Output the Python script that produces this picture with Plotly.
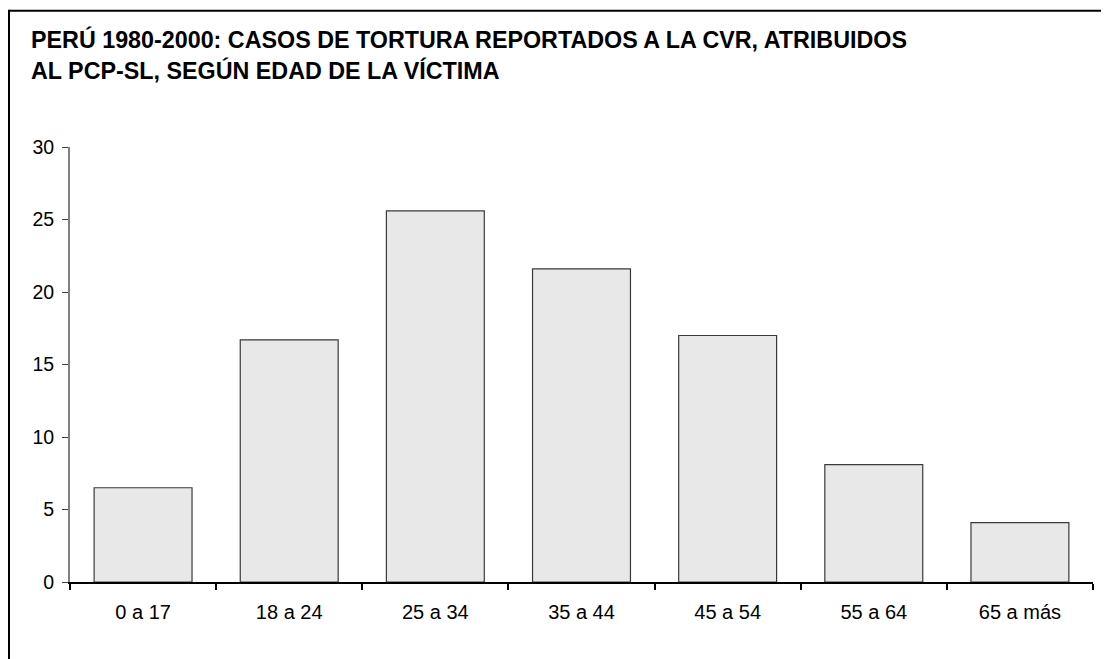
import plotly.graph_objects as go

categories = ["0 a 17", "18 a 24", "25 a 34", "35 a 44", "45 a 54", "55 a 64", "65 a más"]
values = [6.5, 16.7, 25.6, 21.6, 17.0, 8.1, 4.1]
y_ticks = [0, 5, 10, 15, 20, 25, 30]
title_line1 = "PERÚ 1980-2000: CASOS DE TORTURA REPORTADOS A LA CVR, ATRIBUIDOS"
title_line2 = "AL PCP-SL, SEGÚN EDAD DE LA VÍCTIMA"

# page has an 8px body margin; work in page pixel coordinates and shift
O = 8
W, H = 1109 - O, 659 - O
L, R = 70 - O, 16
T = 147.3 - O
B = H - (582.3 - O)
ph = H - T - B
pw = W - L - R

def py(p):  # page pixel y -> paper
    return (582.3 - p) / ph

def px(p):  # page pixel x -> paper
    return (p - 70) / pw

FONT = "Liberation Sans, Arial, sans-serif"

fig = go.Figure(go.Bar(
    x=categories, y=values, width=0.67,
    marker=dict(color="#e8e8e8", line=dict(color="#3a3a3a", width=1.2)),
))

border = dict(color="black", width=2)

fig.update_layout(
    width=W, height=H,
    margin=dict(l=L, r=R, t=T, b=B, autoexpand=False),
    paper_bgcolor="white", plot_bgcolor="white",
    showlegend=False,
    font=dict(family=FONT, size=20, color="black"),
    xaxis=dict(
        type="category", range=[-0.5, 6.5],
        showline=True, linecolor="black", linewidth=1.5,
        ticks="outside", tickson="boundaries", ticklen=6, tickcolor="black", tickwidth=1.5,
        showgrid=False, tickfont=dict(size=20), ticklabelstandoff=11,
    ),
    yaxis=dict(
        range=[0, 30], tickvals=y_ticks,
        showline=True, linecolor="#808080", linewidth=2,
        ticks="outside", ticklen=6, tickcolor="#404040", tickwidth=1,
        showgrid=False, zeroline=False, tickfont=dict(size=19.5), ticklabelstandoff=4,
    ),
    shapes=[
        dict(type="line", xref="paper", yref="paper",
             x0=px(9), x1=px(1400), y0=py(11), y1=py(11), line=border),
        dict(type="line", xref="paper", yref="paper",
             x0=px(9), x1=px(9), y0=py(10), y1=py(1000), line=border),
    ],
    annotations=[
        dict(text="<b>" + title_line1 + "</b>", xref="paper", yref="paper",
             x=px(29), y=py(39.5), xanchor="left", yanchor="middle", showarrow=False,
             font=dict(size=23.3, family=FONT, color="black")),
        dict(text="<b>" + title_line2 + "</b>", xref="paper", yref="paper",
             x=px(29), y=py(71), xanchor="left", yanchor="middle", showarrow=False,
             font=dict(size=23.3, family=FONT, color="black")),
    ],
)

fig.write_html("out.html")
